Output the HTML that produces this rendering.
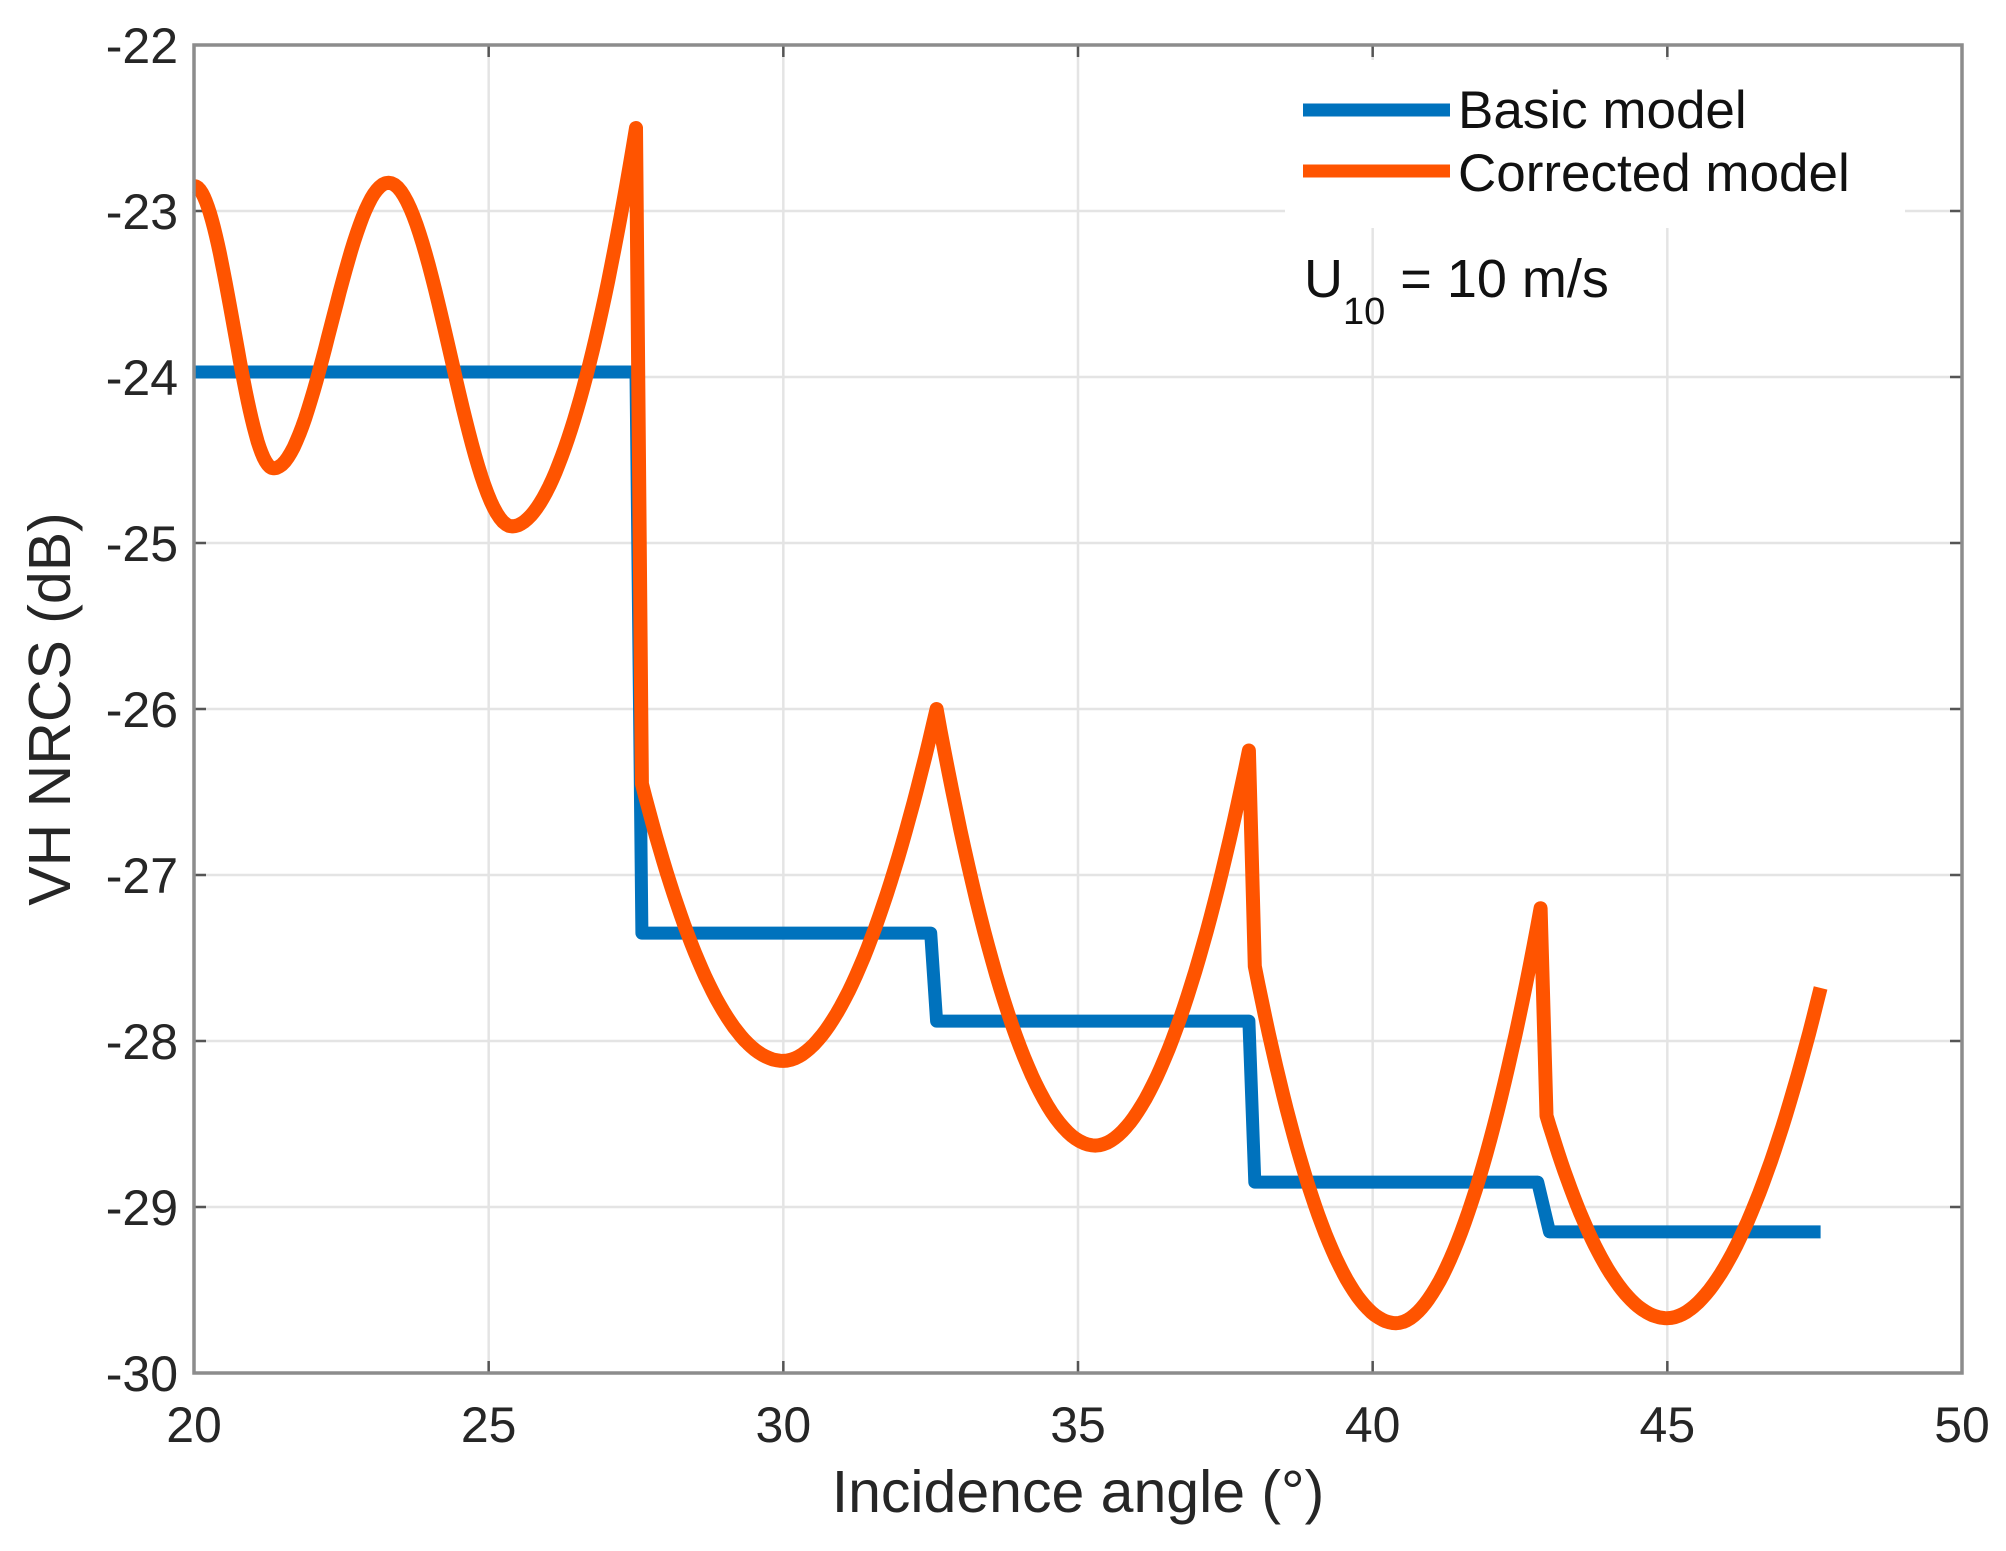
<!DOCTYPE html>
<html><head><meta charset="utf-8"><style>
html,body{margin:0;padding:0;background:#fff;}
svg{display:block;font-family:"Liberation Sans",sans-serif;}
</style></head><body>
<svg id="s" width="2006" height="1551" viewBox="0 0 2006 1551" xmlns="http://www.w3.org/2000/svg">
<rect width="2006" height="1551" fill="#fff"/>
<g id="grid" stroke="#e4e4e4" stroke-width="2.5"></g>
<rect x="1285" y="60" width="620" height="168" fill="#fff"/>
<g id="ticks" stroke="#555" stroke-width="2.5"></g>
<path id="blue" fill="none" stroke="#0072bd" stroke-width="13" stroke-linejoin="round"/>
<path id="orange" fill="none" stroke="#ff5400" stroke-width="14" stroke-linejoin="round"/>
<rect x="194" y="45" width="1768" height="1328" fill="none" stroke="#8c8c8c" stroke-width="3.5"/>
<g id="labels" fill="#262626" font-size="50"></g>
<text x="1078" y="1512" text-anchor="middle" font-size="59" fill="#262626">Incidence angle (°)</text>
<text transform="translate(70,709) rotate(-90)" text-anchor="middle" font-size="59" fill="#262626">VH NRCS (dB)</text>
<line x1="1303" y1="110" x2="1450" y2="110" stroke="#0072bd" stroke-width="13"/>
<line x1="1303" y1="171" x2="1450" y2="171" stroke="#ff5400" stroke-width="13"/>
<text x="1458" y="128" font-size="53" fill="#111">Basic model</text>
<text x="1458" y="191" font-size="53" fill="#111">Corrected model</text>
<text x="1304" y="297" font-size="54" fill="#111">U<tspan font-size="38" dy="27">10</tspan><tspan dy="-27"> = 10 m/s</tspan></text>
</svg>
<script>
var X=function(d){return 194+(d-20)*1768/30;}, Y=function(v){return 45+(-22-v)*166;};
var ns="http://www.w3.org/2000/svg";
function el(p,t,a,txt){var e=document.createElementNS(ns,t);for(var k in a)e.setAttribute(k,a[k]);if(txt)e.textContent=txt;document.getElementById(p).appendChild(e);}
for(var d=25;d<50;d+=5)el("grid","line",{x1:X(d),y1:45,x2:X(d),y2:1373});
for(var v=-23;v>-30;v--)el("grid","line",{x1:194,y1:Y(v),x2:1962,y2:Y(v)});
for(var d=20;d<=50;d+=5){el("ticks","line",{x1:X(d),y1:1373,x2:X(d),y2:1361});el("ticks","line",{x1:X(d),y1:45,x2:X(d),y2:57});
 el("labels","text",{x:X(d),y:1442,"text-anchor":"middle"},""+d);}
for(var v=-22;v>=-30;v--){el("ticks","line",{x1:194,y1:Y(v),x2:206,y2:Y(v)});el("ticks","line",{x1:1962,y1:Y(v),x2:1950,y2:Y(v)});
 el("labels","text",{x:178,y:Y(v)+18,"text-anchor":"end"},""+v);}
var b=[[20,-23.97],[27.5,-23.97],[27.6,-27.35],[32.5,-27.35],[32.6,-27.88],[37.9,-27.88],[38.0,-28.85],[42.8,-28.85],[43.0,-29.15],[47.6,-29.15]];
document.getElementById("blue").setAttribute("d","M"+b.map(function(p){return X(p[0]).toFixed(1)+","+Y(p[1]).toFixed(1);}).join(" L"));
var pts=[];
function add(x,y){pts.push(X(x).toFixed(1)+","+Y(y).toFixed(1));}
function cosseg(x0,y0,x1,y1){for(var i=0;i<=40;i++){var t=i/40,s=(1-Math.cos(Math.PI*t))/2;add(x0+(x1-x0)*t,y0+(y1-y0)*s);}}
function down(x0,y0,xm,ym){for(var i=0;i<=40;i++){var t=i/40;add(x0+(xm-x0)*t,ym+(y0-ym)*Math.pow(1-t,2));}}
function up(xm,ym,x1,y1){for(var i=0;i<=40;i++){var t=i/40;add(xm+(x1-xm)*t,ym+(y1-ym)*Math.pow(t,1.9));}}
var osc=[[20,-22.85],[21.35,-24.55],[23.3,-22.83],[25.4,-24.9]];
add(20,-22.85);
for(var i=0;i<osc.length-1;i++)cosseg(osc[i][0],osc[i][1],osc[i+1][0],osc[i+1][1]);
up(25.4,-24.9,27.5,-22.5);
down(27.6,-26.45,30.0,-28.12);
up(30.0,-28.12,32.6,-26.0);
down(32.6,-26.0,35.3,-28.63);
up(35.3,-28.63,37.9,-26.25);
down(38.0,-27.55,40.4,-29.7);
up(40.4,-29.7,42.85,-27.2);
down(42.95,-28.45,45.0,-29.67);
up(45.0,-29.67,47.6,-27.68);
document.getElementById("orange").setAttribute("d","M"+pts.join(" L"));
</script>
</body></html>
